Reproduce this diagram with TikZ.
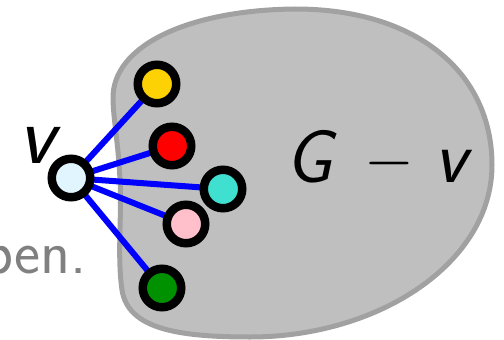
\RequirePackage{fix-cm}
\documentclass[tikz,border=0pt]{standalone}
\usepackage{fontspec}
\usetikzlibrary{backgrounds}
\tikzset{
  vert/.style={circle, draw=black, line width=8.5pt, minimum size=38.5pt, inner sep=0pt},
  edge/.style={draw=blue, line width=6pt},
  blob/.style={draw=black!37, fill=black!25, line width=5pt},
  lbl/.style={inner sep=0pt},
}
\begin{document}
\begin{tikzpicture}[x=1pt,y=-1pt]
\useasboundingbox (0,0) rectangle (504,340);
\clip (0,0) rectangle (504,340);
\node[lbl, text=black!50, anchor=base east, font=\sffamily\fontsize{62}{66}\selectfont] (txt) at (87,273) {pen.};
\node[vert, fill=cyan!12] (v) at (71,178) {};
\node[vert, fill=yellow!85!red] (y) at (157,84) {};
\node[vert, fill=red] (r) at (172,146) {};
\node[vert, fill={rgb,255:red,64;green,224;blue,208}] (t) at (223,189) {};
\node[vert, fill={rgb,255:red,255;green,192;blue,203}] (p) at (186,224) {};
\node[vert, fill={rgb,255:red,0;green,145;blue,0}] (g) at (162,288) {};
\begin{pgfonlayer}{background}
\draw[blob] (113,100) .. controls (111,45) and (190,10) .. (295,9)
  .. controls (420,9) and (492,75) .. (492,165)
  .. controls (492,262) and (380,337) .. (250,337)
  .. controls (175,337) and (128,328) .. (122,290)
  .. controls (117,255) and (122,215) .. (120,180)
  .. controls (118,140) and (114,125) .. (113,100) -- cycle;
\foreach \n in {y,r,t,p,g} \draw[edge] (v.center) -- (\n.center);
\end{pgfonlayer}
\node[lbl, anchor=base, font=\sffamily\itshape\fontsize{84}{90}\selectfont] (vl) at (37,163) {v};
\node[lbl, anchor=base west, font=\sffamily\itshape\fontsize{75}{80}\selectfont] (gl) at (285,182) {G\hspace{32pt}\raisebox{3pt}{\fontsize{64}{70}\selectfont$-$}\hspace{20pt}v};
\end{tikzpicture}
\end{document}
